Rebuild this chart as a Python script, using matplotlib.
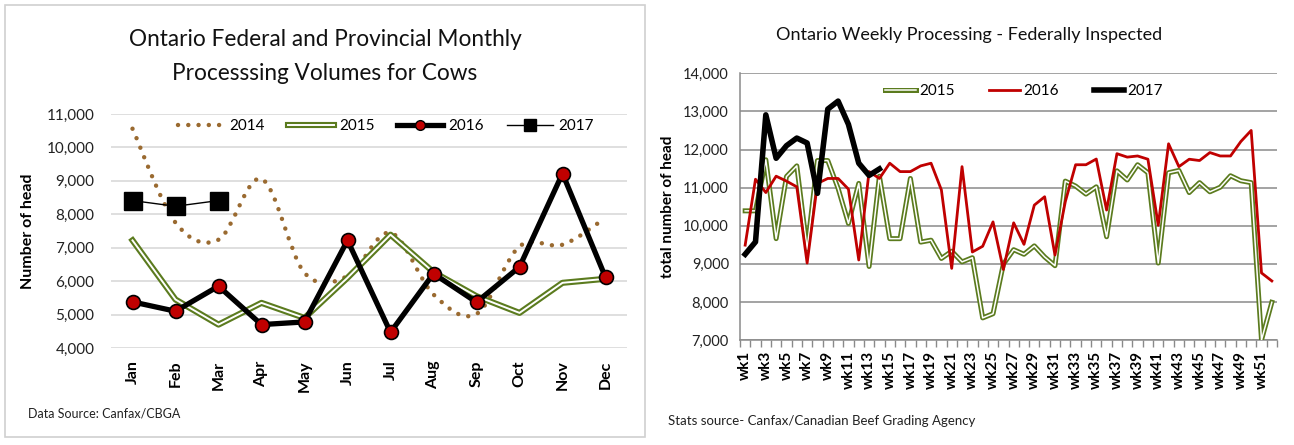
import matplotlib
matplotlib.use("Agg")
import matplotlib.pyplot as plt
import numpy as np
from matplotlib.path import Path
from matplotlib.patches import PathPatch, Rectangle
from matplotlib.lines import Line2D
import matplotlib.patheffects as pe

plt.rcParams['font.family'] = ['Lato', 'DejaVu Sans']

# ---------------- data: monthly (left) ----------------
months = ['Jan', 'Feb', 'Mar', 'Apr', 'May', 'Jun', 'Jul', 'Aug', 'Sep', 'Oct', 'Nov', 'Dec']
cows_2014 = [10560, 7750, 7240, 9060, 6250, 6150, 7450, 5600, 5020, 7040, 7090, 7890]
cows_2015 = [7220, 5450, 4700, 5350, 4900, 6100, 7390, 6270, 5550, 5050, 5950, 6070]
cows_2016 = [5380, 5100, 5850, 4700, 4780, 7220, 4470, 6225, 5370, 6425, 9220, 6115]
cows_2017 = [8410, 8240, 8410]

# ---------------- data: weekly (right) ----------------
weeks = [f'wk{i}' for i in range(1, 53)]
fed_2015 = [10390, 10390, 11730, 9660, 11290, 11570, 9380, 11710, 11710, 10980,
            10060, 11110, 8930, 11300, 9660, 9660, 11240, 9570, 9620, 9140,
            9330, 9050, 9160, 7580, 7690, 8990, 9370, 9250, 9470, 9180,
            8950, 11170, 11040, 10830, 11020, 9710, 11440, 11200, 11600, 11390,
            9020, 11390, 11450, 10870, 11130, 10890, 11010, 11310, 11180, 11130,
            7000, 7990]
fed_2016 = [9490, 11220, 10870, 11300, 11170, 11020, 9020, 11110, 11240, 11240,
            10960, 9100, 11420, 11240, 11640, 11420, 11420, 11570, 11640, 10940,
            8880, 11550, 9310, 9460, 10100, 8850, 10075, 9510, 10540, 10760,
            9230, 10630, 11600, 11600, 11750, 10410, 11890, 11800, 11830, 11745,
            10010, 12150, 11550, 11745, 11710, 11920, 11830, 11830, 12210, 12500,
            8760, 8550]
fed_2017 = [9250, 9575, 12910, 11770, 12100, 12300, 12170, 10850, 13060, 13270,
            12660, 11640, 11320, 11490]

GREEN = '#5b7b1e'
RED = '#c00000'
BROWN = '#9a6a30'

fig = plt.figure(figsize=(12.94, 4.45), dpi=100)
W, H = 1294, 445

def fx(px):
    return px / W

def fy(py):
    return 1 - py / H

# panel border for left chart
fig.patches.append(Rectangle((fx(5), fy(437)), fx(640), (432) / H, transform=fig.transFigure,
                             fill=False, edgecolor='#d0d0d0', linewidth=1.2))

# ================= LEFT CHART =================
axL = fig.add_axes([fx(111), fy(348), fx(627 - 111), (348 - 114) / H])
x = np.arange(len(months))
axL.set_xlim(-0.5, len(months) - 0.5)
axL.set_ylim(4000, 11000)
axL.set_yticks(np.arange(4000, 11001, 1000))
axL.yaxis.set_major_formatter(matplotlib.ticker.StrMethodFormatter('{x:,.0f}'))
axL.grid(axis='y', color='#d9d9d9', linewidth=1.2)
axL.set_axisbelow(True)
for s in axL.spines.values():
    s.set_visible(False)
axL.tick_params(axis='both', length=0)
axL.tick_params(axis='y', labelsize=11, pad=12, labelcolor='#222222')
axL.set_xticks(x)
axL.set_xticklabels(months, rotation=90, fontsize=11.5, fontweight='bold')
axL.tick_params(axis='x', pad=9)
axL.set_ylabel('Number of head', fontsize=11.5, fontweight='bold', labelpad=8)

# smoothed (Excel-like) dotted 2014 line via Bezier curves
pts = np.column_stack([x, cows_2014]).astype(float)
verts = [tuple(pts[0])]
codes = [Path.MOVETO]
n = len(pts)
for i in range(n - 1):
    p0 = pts[max(i - 1, 0)]
    p1 = pts[i]
    p2 = pts[i + 1]
    p3 = pts[min(i + 2, n - 1)]
    c1 = p1 + (p2 - p0) / 6.0
    c2 = p2 - (p3 - p1) / 6.0
    verts += [tuple(c1), tuple(c2), tuple(p2)]
    codes += [Path.CURVE4] * 3
patch = PathPatch(Path(verts, codes), fill=False, edgecolor=BROWN, linewidth=3.2,
                  linestyle=(0, (0.01, 2.3)), capstyle='round', zorder=2)
axL.add_patch(patch)

l15, = axL.plot(x, cows_2015, color='white', linewidth=1.4, zorder=3,
                path_effects=[pe.Stroke(linewidth=4.4, foreground=GREEN), pe.Normal()])
l16, = axL.plot(x, cows_2016, color='black', linewidth=3.8, marker='o', markersize=10,
                markerfacecolor=RED, markeredgecolor='black', markeredgewidth=1.2, zorder=4)
l17, = axL.plot(x[:len(cows_2017)], cows_2017, color='black', linewidth=1.0, marker='s',
                markersize=13, markerfacecolor='black', zorder=5)

h14 = Line2D([], [], color=BROWN, linewidth=3.2, linestyle=(0, (0.01, 2.3)),
             dash_capstyle='round')
leg_h = [h14, l15,
         Line2D([], [], color='black', linewidth=3.8, marker='o', markersize=7,
                markerfacecolor=RED, markeredgecolor='black'),
         Line2D([], [], color='black', linewidth=1.0, marker='s', markersize=8,
                markerfacecolor='black')]
axL.legend(leg_h, ['2014', '2015', '2016', '2017'], ncol=4, frameon=False,
           loc='center', bbox_to_anchor=(fx(386), fy(126)), bbox_transform=fig.transFigure,
           fontsize=11, handlelength=3.0, columnspacing=1.5, handletextpad=0.35)

fig.text(fx(325), fy(40), 'Ontario Federal and Provincial Monthly', ha='center', va='center',
         fontsize=16.3, color='#111111')
fig.text(fx(325), fy(73), 'Processsing Volumes for Cows', ha='center', va='center',
         fontsize=16.3, color='#111111')
fig.text(fx(28), fy(413), 'Data Source: Canfax/CBGA', ha='left', va='center', fontsize=9,
         color='#222222')

# ================= RIGHT CHART =================
axR = fig.add_axes([fx(740), fy(340), fx(1277 - 740), (340 - 73.3) / H])
wx = np.arange(1, len(weeks) + 1)
axR.set_xlim(0.5, len(weeks) + 0.5)
axR.set_ylim(7000, 14000)
axR.set_yticks(np.arange(7000, 14001, 1000))
axR.yaxis.set_major_formatter(matplotlib.ticker.StrMethodFormatter('{x:,.0f}'))
axR.grid(axis='y', color='#8a8a8a', linewidth=1.1)
axR.set_axisbelow(True)
for k in ['top', 'right']:
    axR.spines[k].set_visible(False)
for k in ['left', 'bottom']:
    axR.spines[k].set_color('#8a8a8a')
    axR.spines[k].set_linewidth(1.1)
axR.tick_params(axis='y', length=0, labelsize=10.5, pad=8, labelcolor='#222222')
axR.set_xticks(wx[::2])
axR.set_xticklabels(weeks[::2], rotation=90, fontsize=11, fontweight='bold')
axR.set_xticks(np.arange(0.5, len(weeks) + 1, 1.0), minor=True)
axR.tick_params(axis='x', which='major', length=0, pad=8)
axR.tick_params(axis='x', which='minor', length=5, color='#8a8a8a', width=1.0)
axR.set_ylabel('total number of head', fontsize=11, fontweight='bold', labelpad=6)

r15, = axR.plot(wx, fed_2015, color='white', linewidth=1.1, zorder=3,
                path_effects=[pe.Stroke(linewidth=3.6, foreground=GREEN), pe.Normal()])
r16, = axR.plot(wx, fed_2016, color=RED, linewidth=2.0, zorder=4)
r17, = axR.plot(wx[:len(fed_2017)], fed_2017, color='black', linewidth=4.0, zorder=5)
axR.legend([r15, r16, r17], ['2015', '2016', '2017'], ncol=3, frameon=False,
           loc='center', bbox_to_anchor=(fx(1024), fy(91)), bbox_transform=fig.transFigure,
           fontsize=11, handlelength=2.0, columnspacing=2.3, handletextpad=0.2)

fig.text(fx(969), fy(35), 'Ontario Weekly Processing - Federally Inspected', ha='center',
         va='center', fontsize=13, color='#111111')
fig.text(fx(668), fy(421), 'Stats source- Canfax/Canadian Beef Grading Agency', ha='left',
         va='center', fontsize=9.5, color='#222222')

fig.savefig('out.png', dpi=100)
